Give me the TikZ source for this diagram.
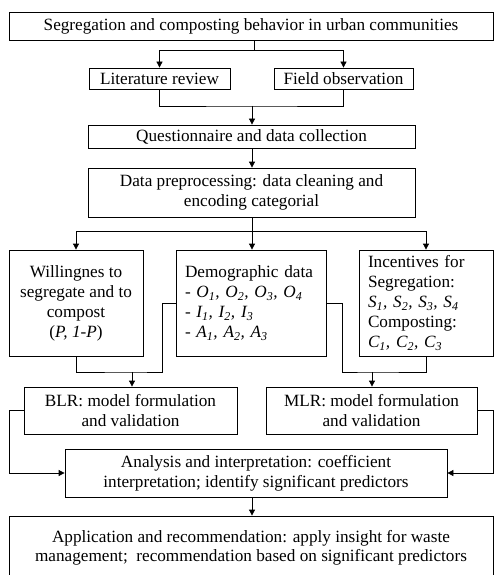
\documentclass[tikz,border=0pt]{standalone}
\usepackage{fontspec}
\setmainfont{Liberation Serif}
\usetikzlibrary{arrows.meta}
\begin{document}
\begin{tikzpicture}[x=1pt,y=-1pt,
  every node/.style={font=\fontsize{17.2}{20}\selectfont},
  box/.style={draw, line width=0.8pt, inner sep=0pt, align=center},
  lbox/.style={draw, line width=0.8pt, inner xsep=9pt, inner ysep=0pt, align=left},
  ln/.style={line width=0.8pt},
  arr/.style={line width=0.8pt, -{Triangle[length=6pt,width=6pt]}}]
\useasboundingbox (0,0) rectangle (495,575);
\clip (0,0) rectangle (495,575);
% boxes
\node[box, minimum width=484pt, minimum height=28pt] (top) at (251,26) {Segregation and composting behavior in urban communities};
\node[box, minimum width=141pt, minimum height=21pt] (lit) at (159.5,78.5) {Literature review};
\node[box, minimum width=139pt, minimum height=21pt] (fld) at (343.5,78.5) {Field observation};
\node[box, minimum width=327pt, minimum height=23pt] (que) at (251.5,136.5) {Questionnaire and data collection};
\node[box, minimum width=327pt, minimum height=49pt] (dat) at (251.5,192.5) {Data preprocessing: data cleaning and\\encoding categorial};
\node[box, minimum width=134pt, minimum height=106pt] (wil) at (76,303) {Willingnes to\\segregate and to\\compost\\(\textit{P, 1-P})};
\node[lbox, text width=132pt, minimum height=106pt] (dem) at (251,303) {Demographic data\\- \textit{O\textsubscript{1}, O\textsubscript{2}, O\textsubscript{3}, O\textsubscript{4}}\\- \textit{I\textsubscript{1}, I\textsubscript{2}, I\textsubscript{3}}\\- \textit{A\textsubscript{1}, A\textsubscript{2}, A\textsubscript{3}}};
\node[lbox, text width=116pt, minimum height=106pt] (inc) at (426,303) {Incentives for\\Segregation:\\\textit{S\textsubscript{1}, S\textsubscript{2}, S\textsubscript{3}, S\textsubscript{4}}\\Composting:\\\textit{C\textsubscript{1}, C\textsubscript{2}, C\textsubscript{3}}};
\node[box, minimum width=213pt, minimum height=47pt] (blr) at (130.5,410.5) {BLR: model formulation\\and validation};
\node[box, minimum width=211pt, minimum height=47pt] (mlr) at (371.5,410.5) {MLR: model formulation\\and validation};
\node[box, minimum width=382pt, minimum height=48pt] (ana) at (256,473) {Analysis and interpretation: coefficient\\interpretation; identify significant predictors};
\node[box, minimum width=484pt, minimum height=64pt] (app) at (251,548) {};
\node[align=center, inner sep=0pt, font=\fontsize{17.2}{19}\selectfont] (apptxt) at (251,548) {Application and recommendation: apply insight for waste\\management;\ \ recommendation based on significant predictors};
% connectors
\coordinate (j1) at (254,50);
\draw[ln] (top.south -| j1) -- (j1);
\draw[arr] (j1) -| (lit.north);
\draw[arr] (j1) -| (fld.north);
\coordinate (j2) at (252,106);
\draw[ln] (lit.south) |- (j2) -| (fld.south);
\draw[arr] (j2) -- (que.north -| j2);
\draw[arr] (que.south -| j2) -- (dat.north -| j2);
\coordinate (j3) at (252,231);
\draw[ln] (dat.south -| j3) -- (j3);
\draw[arr] (j3) -| (wil.north);
\draw[arr] (j3) -- (dem.north -| j3);
\draw[arr] (j3) -| (inc.north);
\coordinate (l1) at (162,303);
\coordinate (l2) at (132,372);
\draw[ln] (wil.south) |- (l2) -| (l1) -- (dem.west);
\draw[arr] (l2) -- (blr.north -| l2);
\coordinate (r1) at (342,303);
\coordinate (r2) at (372,372);
\draw[ln] (inc.south) |- (r2) -| (r1) -- (dem.east);
\draw[arr] (r2) -- (mlr.north -| r2);
\coordinate (bl) at (9,473);
\draw[arr] (blr.west) -| (bl) -- (ana.west);
\coordinate (br) at (493,473);
\draw[arr] (mlr.east) -| (br) -- (ana.east);
\draw[arr] (ana.south -| j3) -- (app.north -| j3);
\end{tikzpicture}
\end{document}
